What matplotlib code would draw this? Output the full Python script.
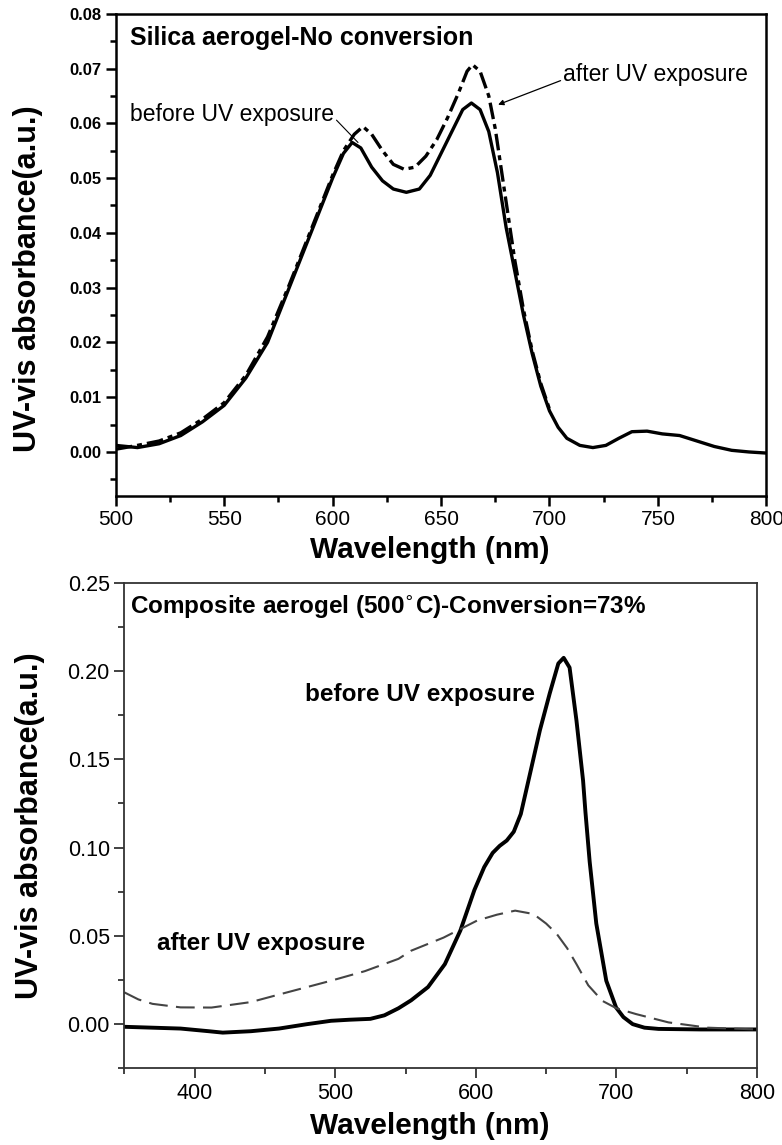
"""
UV-vis absorbance before/after UV exposure: silica aerogel vs composite aerogel.
"""

import matplotlib
matplotlib.use('Agg')
import matplotlib.pyplot as plt
from matplotlib.ticker import MultipleLocator, FormatStrFormatter

plt.rcParams['font.family'] = ['Liberation Sans', 'DejaVu Sans']

# --- top panel: silica aerogel, no conversion ---
silica_wl_before = [500, 510, 520, 530, 540, 550, 560, 570, 580, 590, 600, 605, 609, 613,
                    618, 623, 628, 634, 640, 645, 650, 655, 660, 664, 668, 672, 676, 680,
                    684, 688, 692, 696, 700, 704, 708, 714, 720, 726, 732, 738, 745, 752,
                    760, 768, 776, 784, 792, 800]
silica_abs_before = [0.0012, 0.0008, 0.0015, 0.003, 0.0055, 0.0085, 0.0135, 0.020, 0.030,
                     0.040, 0.050, 0.0545, 0.0565, 0.0555, 0.052, 0.0495, 0.048, 0.0474,
                     0.048, 0.0505, 0.0545, 0.0585, 0.0625, 0.0637, 0.0625, 0.0585, 0.051,
                     0.041, 0.033, 0.025, 0.018, 0.012, 0.0075, 0.0045, 0.0025, 0.0012,
                     0.0008, 0.0012, 0.0025, 0.0037, 0.0038, 0.0033, 0.003, 0.002, 0.001,
                     0.0003, 0.0, -0.0002]

silica_wl_after = [500, 510, 520, 530, 540, 550, 560, 570, 580, 590, 600, 605, 610, 614,
                   618, 623, 628, 633, 638, 643, 648, 653, 658, 662, 664.5, 668, 672, 675,
                   678, 681, 684, 688, 692, 696, 700]
silica_abs_after = [0.0005, 0.0012, 0.002, 0.0035, 0.006, 0.009, 0.014, 0.021, 0.0305,
                    0.0405, 0.0505, 0.055, 0.058, 0.0594, 0.058, 0.055, 0.0525, 0.0516,
                    0.052, 0.054, 0.057, 0.061, 0.0655, 0.0695, 0.0707, 0.0695, 0.065,
                    0.059, 0.051, 0.043, 0.035, 0.026, 0.0185, 0.0125, 0.0078]

# --- bottom panel: composite aerogel (500 C), 73 % conversion ---
comp_wl_before = [350, 370, 390, 410, 420, 440, 460, 480, 497, 510, 525, 535, 545, 554,
                  566, 578, 589, 599, 606, 612, 617, 622, 627, 632, 638.6, 645.6, 652.6,
                  658.7, 662.5, 666.7, 671.6, 676.3, 678, 681, 685.7, 692.8, 699.8, 705,
                  711.6, 720, 730, 760, 800]
comp_abs_before = [-0.0015, -0.002, -0.0025, -0.004, -0.0048, -0.004, -0.0025, 0.0, 0.0019,
                   0.0025, 0.003, 0.005, 0.009, 0.0135, 0.021, 0.034, 0.053, 0.076, 0.089,
                   0.097, 0.101, 0.104, 0.109, 0.119, 0.142, 0.1665, 0.1874, 0.2043, 0.2075,
                   0.202, 0.172, 0.138, 0.12, 0.092, 0.057, 0.0246, 0.0094, 0.004, 0.0,
                   -0.002, -0.0027, -0.003, -0.003]

comp_wl_after = [350, 360, 370, 390, 412, 440, 462, 497, 521, 545, 554, 577, 601, 615, 628,
                 641, 650, 657.5, 665, 671.6, 680, 690, 700, 714, 737, 765, 800]
comp_abs_after = [0.018, 0.014, 0.0115, 0.0095, 0.0094, 0.0125, 0.0172, 0.0246, 0.030,
                  0.037, 0.0416, 0.049, 0.0587, 0.062, 0.0643, 0.0624, 0.057, 0.0512, 0.043,
                  0.034, 0.022, 0.0132, 0.009, 0.0057, 0.001, -0.002, -0.003]


def style_axes(ax, frame_color, frame_lw):
    for sp in ax.spines.values():
        sp.set_color(frame_color)
        sp.set_linewidth(frame_lw)
    ax.tick_params(which='both', direction='out', top=False, right=False,
                   color=frame_color, width=frame_lw)
    ax.tick_params(which='major', length=7)
    ax.tick_params(which='minor', length=4)


fig = plt.figure(figsize=(7.82, 11.45), dpi=100)

# top panel
ax1 = fig.add_axes([0.148, 0.567, 0.832, 0.421])
ax1.plot(silica_wl_before, silica_abs_before, color='black', lw=2.4)
ax1.plot(silica_wl_after, silica_abs_after, color='black', lw=2.4,
         linestyle=(0, (5, 1.5, 1.5, 1.5)))
ax1.set_xlim(500, 800)
ax1.set_ylim(-0.008, 0.08)
ax1.xaxis.set_major_locator(MultipleLocator(50))
ax1.xaxis.set_minor_locator(MultipleLocator(25))
ax1.yaxis.set_major_locator(MultipleLocator(0.01))
ax1.yaxis.set_minor_locator(MultipleLocator(0.005))
ax1.yaxis.set_major_formatter(FormatStrFormatter('%.2f'))
style_axes(ax1, 'black', 1.8)
for lab in ax1.get_yticklabels():
    lab.set_fontsize(12)
    lab.set_fontweight('bold')
for lab in ax1.get_xticklabels():
    lab.set_fontsize(15)
ax1.set_xlabel('Wavelength (nm)', fontsize=21.5, fontweight='bold')
ax1.set_ylabel('UV-vis absorbance(a.u.)', fontsize=22, fontweight='bold')
ax1.xaxis.set_label_coords(0.482, -0.084)
ax1.yaxis.set_label_coords(-0.112, 0.45)

ax1.text(0.0215, 0.950, 'Silica aerogel-No conversion', transform=ax1.transAxes,
         fontsize=18, fontweight='bold', ha='left', va='center')
ax1.annotate('before UV exposure', xy=(611.7, 0.0565), xytext=(0.0215, 0.790),
             textcoords='axes fraction', fontsize=16.5, ha='left', va='center',
             arrowprops=dict(arrowstyle='-', color='black', lw=0.8, shrinkA=0, shrinkB=0,
                             relpos=(1.0, 0.4)))
ax1.annotate('after UV exposure', xy=(676.3, 0.0634), xytext=(0.688, 0.873),
             textcoords='axes fraction', fontsize=16.5, ha='left', va='center',
             arrowprops=dict(arrowstyle='-|>', color='black', lw=0.9, mutation_scale=8,
                             shrinkA=0, shrinkB=0, relpos=(0.0, 0.3)))

# bottom panel
ax2 = fig.add_axes([0.159, 0.067, 0.809, 0.424])
ax2.plot(comp_wl_before, comp_abs_before, color='black', lw=2.8)
ax2.plot(comp_wl_after, comp_abs_after, color='#444444', lw=1.5,
         linestyle=(0, (9, 4)))
ax2.set_xlim(350, 800)
ax2.set_ylim(-0.025, 0.25)
ax2.xaxis.set_major_locator(MultipleLocator(100))
ax2.xaxis.set_minor_locator(MultipleLocator(50))
ax2.yaxis.set_major_locator(MultipleLocator(0.05))
ax2.yaxis.set_minor_locator(MultipleLocator(0.025))
ax2.yaxis.set_major_formatter(FormatStrFormatter('%.2f'))
style_axes(ax2, '#333333', 1.3)
for lab in ax2.get_xticklabels() + ax2.get_yticklabels():
    lab.set_fontsize(15.5)
ax2.set_xlabel('Wavelength (nm)', fontsize=21.5, fontweight='bold')
ax2.set_ylabel('UV-vis absorbance(a.u.)', fontsize=22, fontweight='bold')
ax2.xaxis.set_label_coords(0.483, -0.09)
ax2.yaxis.set_label_coords(-0.126, 0.50)

ax2.text(0.0095, 0.950, 'Composite aerogel (500$^{\\circ}$C)-Conversion=73%',
         transform=ax2.transAxes, fontsize=17.5, fontweight='bold', ha='left', va='center')
ax2.text(0.286, 0.769, 'before UV exposure', transform=ax2.transAxes,
         fontsize=17.5, fontweight='bold', ha='left', va='center')
ax2.text(0.052, 0.258, 'after UV exposure', transform=ax2.transAxes,
         fontsize=17.5, fontweight='bold', ha='left', va='center')

fig.savefig('out.png', dpi=100)
plt.close(fig)
